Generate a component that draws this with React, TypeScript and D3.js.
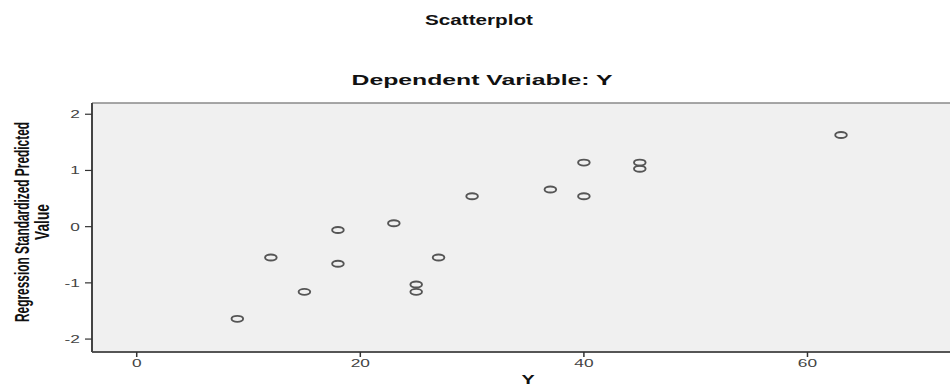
import React, { useRef, useEffect } from "react";
import * as d3 from "d3";

// observed Y values and regression standardized predicted values
const yObserved = [9, 12, 15, 18, 18, 23, 25, 25, 27, 30, 37, 40, 40, 45, 45, 63];
const predicted = [-1.64, -0.55, -1.16, -0.06, -0.66, 0.06, -1.03, -1.16, -0.55, 0.54, 0.66, 1.14, 0.54, 1.14, 1.03, 1.63];
const xTicks = [0, 20, 40, 60];
const yTicks = [-2, -1, 0, 1, 2];

const W = 950;
const H = 388;
const SX = 1.65; // the reference is stretched horizontally

const App = () => {
  const svgRef = useRef<SVGSVGElement>(null);

  useEffect(() => {
    const svg = d3.select(svgRef.current);
    svg.selectAll("*").remove();

    const left = 92, right = 964, top = 103, bottom = 352;

    const x = d3.scaleLinear().domain([-4, 74]).range([left, right]);
    const y = d3.scaleLinear().domain([-2.23, 2.2]).range([bottom, top]);

    const font = "'Liberation Sans', Arial, sans-serif";

    // titles
    svg.append("text")
      .attr("x", 479).attr("y", 25)
      .attr("text-anchor", "middle")
      .attr("font-family", font).attr("font-weight", "bold").attr("font-size", 14)
      .attr("textLength", 108).attr("lengthAdjust", "spacingAndGlyphs")
      .attr("fill", "#111")
      .text("Scatterplot");

    svg.append("text")
      .attr("x", 482).attr("y", 85)
      .attr("text-anchor", "middle")
      .attr("font-family", font).attr("font-weight", "bold").attr("font-size", 14)
      .attr("textLength", 261).attr("lengthAdjust", "spacingAndGlyphs")
      .attr("fill", "#111")
      .text("Dependent Variable: Y");

    // plot background
    svg.append("rect")
      .attr("x", left).attr("y", top)
      .attr("width", right - left).attr("height", bottom - top)
      .attr("fill", "#f0f0f0");

    svg.append("line")
      .attr("x1", left).attr("x2", right).attr("y1", top).attr("y2", top)
      .attr("stroke", "#8a8a8a").attr("stroke-width", 1.5);

    // x axis
    const gx = svg.append("g");
    gx.append("line")
      .attr("x1", left).attr("x2", right).attr("y1", bottom).attr("y2", bottom)
      .attr("stroke", "#555").attr("stroke-width", 2);
    xTicks.forEach(t => {
      gx.append("line")
        .attr("x1", x(t)).attr("x2", x(t)).attr("y1", bottom).attr("y2", bottom + 5)
        .attr("stroke", "#333").attr("stroke-width", 1.5);
      gx.append("text")
        .attr("transform", `translate(${x(t)},${bottom + 15}) scale(${SX},1)`)
        .attr("text-anchor", "middle")
        .attr("font-family", font).attr("font-size", 10.5)
        .attr("fill", "#444")
        .text(t);
    });

    // y axis
    const gy = svg.append("g");
    gy.append("line")
      .attr("x1", left).attr("x2", left).attr("y1", top).attr("y2", bottom)
      .attr("stroke", "#444").attr("stroke-width", 2);
    yTicks.forEach(t => {
      gy.append("line")
        .attr("x1", left - 7).attr("x2", left).attr("y1", y(t)).attr("y2", y(t))
        .attr("stroke", "#333").attr("stroke-width", 1.2);
      gy.append("text")
        .attr("transform", `translate(${left - 12},${y(t) + 4}) scale(${SX},1)`)
        .attr("text-anchor", "end")
        .attr("font-family", font).attr("font-size", 10.5)
        .attr("fill", "#444")
        .text(t);
    });

    // axis titles
    svg.append("text")
      .attr("transform", `translate(${(left + right) / 2},${384}) scale(${SX},1)`)
      .attr("text-anchor", "middle")
      .attr("font-family", font).attr("font-weight", "bold").attr("font-size", 12)
      .attr("fill", "#111")
      .text("Y");

    const yLabel = svg.append("text")
      .attr("transform", `translate(${29},${222}) rotate(-90) scale(1,${SX})`)
      .attr("text-anchor", "middle")
      .attr("font-family", font).attr("font-weight", "bold").attr("font-size", 12.5)
      .attr("fill", "#111");
    yLabel.append("tspan").attr("x", 0).attr("dy", 0)
      .attr("textLength", 200).attr("lengthAdjust", "spacingAndGlyphs")
      .text("Regression Standardized Predicted");
    yLabel.append("tspan").attr("x", 0).attr("dy", 12)
      .attr("textLength", 36).attr("lengthAdjust", "spacingAndGlyphs")
      .text("Value");

    // points
    svg.append("g")
      .selectAll("ellipse")
      .data(yObserved.map((v, i) => ({ v, p: predicted[i] })))
      .enter()
      .append("ellipse")
      .attr("cx", d => x(d.v))
      .attr("cy", d => y(d.p))
      .attr("rx", 5.8)
      .attr("ry", 3)
      .attr("fill", "none")
      .attr("stroke", "#555")
      .attr("stroke-width", 1.9);
  }, []);

  return (
    <svg
      ref={svgRef}
      width={W}
      height={H}
      style={{ position: "absolute", left: 0, top: 0, background: "#fff" }}
    ></svg>
  );
};

export default App;
